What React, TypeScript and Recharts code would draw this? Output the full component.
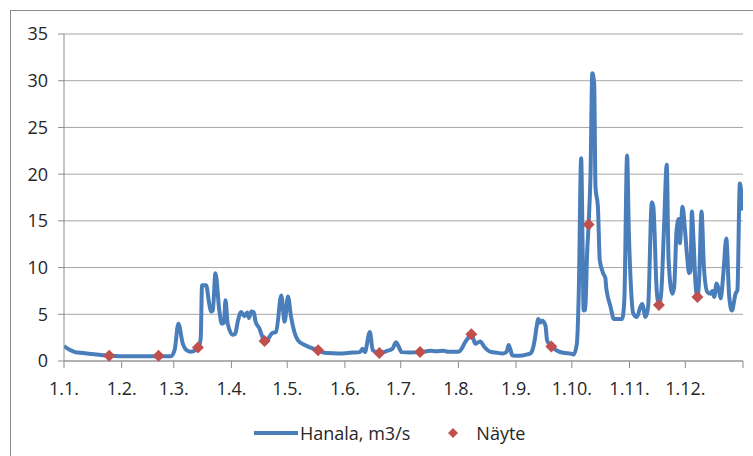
import { ComposedChart, Line, Scatter, XAxis, YAxis, CartesianGrid } from 'recharts'

// daily flow at the turning points (day of year, m3/s)
const flowDay = [
  0, 3, 6, 10, 15, 20, 25, 30, 40, 50, 57.5, 59.5, 61.5, 63.8, 65.6, 68, 71, 72.5, 73.5, 74.2,
  76.4, 78, 79, 80, 81.4, 83.5, 84.8, 86, 86.8, 88, 90.7, 92, 93.5, 95.2, 97, 98.5, 99.4, 100.7, 102, 103,
  105, 107, 108.5, 110.5, 112, 114, 116.8, 118.6, 120.4, 122, 124, 125.8, 129.4, 133, 136.6, 141, 148, 155, 159, 160.5,
  161.7, 164.4, 166, 169.5, 174, 176.5, 178.5, 180, 181.5, 186, 192, 197, 200, 204, 206, 210, 212, 214, 215.6, 217,
  219, 220, 221, 223.7, 226, 229, 232, 236, 238, 239, 240, 241, 245, 249, 250.7, 252, 253, 254, 255, 256,
  257, 258.8, 259.7, 262, 266, 269.5, 272, 274, 275.7, 276.7, 278, 278.8, 279.3, 280.2, 281.2, 282, 283, 284, 285, 285.7,
  287, 288, 289.3, 290, 291, 291.5, 292, 293.8, 295.6, 300, 301.2, 302.7, 303.6, 304.6, 306, 308, 309.8, 310.8, 312.6, 314,
  316, 316.8, 318.6, 319.8, 321, 322.5, 324, 325, 327, 328, 329.3, 330.5, 331, 332.5, 333.7, 335, 336, 336.8, 337.5, 338.4,
  339.6, 340.5, 341.4, 342.7, 344, 345.8, 347.6, 348.5, 349.5, 350.8, 352, 353, 354.5, 356, 357.6, 359, 361, 362, 363.3, 364.7,
]
const flowValue = [
  1.6, 1.2, 0.95, 0.85, 0.75, 0.65, 0.55, 0.5, 0.5, 0.5, 0.5, 1.2, 4.0, 1.9, 1.2, 1.0, 1.2, 1.5, 2.5, 8.1,
  8.1, 6.2, 5.3, 5.4, 9.4, 5.4, 4.0, 4.1, 6.5, 4.0, 2.8, 2.9, 4.3, 5.25, 4.8, 5.2, 4.6, 5.3, 5.2, 4.2,
  3.5, 2.4, 2.0, 2.6, 3.0, 3.1, 7.0, 4.2, 6.9, 4.8, 3.0, 2.2, 1.7, 1.4, 1.1, 0.85, 0.8, 0.9, 0.95, 1.3,
  0.95, 3.1, 1.15, 0.85, 1.1, 1.3, 2.0, 1.5, 0.95, 0.9, 0.95, 1.1, 1.05, 1.1, 1.0, 1.0, 1.0, 1.4, 2.0, 2.4,
  2.8, 2.4, 1.85, 2.1, 1.5, 1.0, 0.9, 0.8, 1.0, 1.7, 1.2, 0.6, 0.55, 0.7, 0.8, 1.3, 2.2, 3.6, 4.5, 4.1,
  4.3, 3.8, 2.2, 1.6, 1.0, 0.85, 0.8, 0.7, 1.85, 7.2, 21.7, 12, 5.4, 5.5, 11.5, 14.6, 19.7, 30.8, 29.7, 18.6,
  16.5, 10.8, 9.7, 9.3, 8.9, 7.8, 7.2, 5.8, 4.5, 4.5, 6.5, 22.0, 14, 8.6, 5.1, 4.7, 5.8, 6.1, 4.7, 5.8,
  17.0, 16.5, 7.6, 6.0, 7.2, 14, 21, 10.8, 7.2, 7.9, 14, 15.2, 12.6, 16.5, 14.3, 11.1, 9.4, 9.6, 16, 12.9,
  7.9, 6.85, 8.6, 16, 10, 7.4, 7.2, 7.5, 6.85, 8.3, 7.6, 6.7, 9.5, 13.1, 6.85, 5.4, 7.2, 7.6, 19, 16.1,
]

// samples (Näyte)
const sampleDay = [24.3, 50.8, 72, 107.8, 136.6, 169.5, 191.4, 219, 262, 282, 319.8, 340.5]
const sampleValue = [0.55, 0.55, 1.45, 2.15, 1.15, 0.85, 0.95, 2.85, 1.55, 14.6, 6.0, 6.85]

const monthTicks = [0, 31, 59, 90, 120, 151, 181, 212, 243, 273, 304, 334, 365]
const monthLabels = ['1.1.', '1.2.', '1.3.', '1.4.', '1.5.', '1.6.', '1.7.', '1.8.', '1.9.', '1.10.', '1.11.', '1.12.', '']
const yTicks = [0, 5, 10, 15, 20, 25, 30, 35]

const flowData = flowDay.map((d, i) => ({ day: d, value: flowValue[i] }))
const sampleData = sampleDay.map((d, i) => ({ day: d, value: sampleValue[i] }))

const BLUE = '#4a7ebb'
const RED = '#c0504d'
const FONT = '"Open Sans", sans-serif'

const Diamond = (props: any) => {
  const { cx, cy } = props
  if (cx == null || cy == null) return null
  const r = 6
  return <polygon points={`${cx},${cy - r} ${cx + r},${cy} ${cx},${cy + r} ${cx - r},${cy}`} fill={RED} />
}

export default function App() {
  const tick = { fontSize: 18, fill: '#262626', fontFamily: FONT }
  return (
    <div style={{ position: 'absolute', left: 0, top: 0, width: 753, height: 456, overflow: 'hidden', background: '#fff' }}>
      <div style={{ position: 'absolute', left: 10, top: 10, width: 760, height: 460, borderLeft: '1px solid #8c8c8c', borderTop: '1px solid #8c8c8c' }} />
      <ComposedChart width={753} height={456} margin={{ top: 34, right: 10, bottom: 60, left: 0 }} style={{ position: 'absolute', left: 0, top: 0 }}>
        <CartesianGrid vertical={false} stroke="#a6a6a6" strokeWidth={1} />
        <XAxis
          type="number"
          dataKey="day"
          domain={[0, 365]}
          ticks={monthTicks}
          tickFormatter={(v: number) => monthLabels[monthTicks.indexOf(v)] ?? ''}
          interval={0}
          height={35}
          tickSize={7}
          tickMargin={14}
          stroke="#8c8c8c"
          tick={tick}
          allowDataOverflow
        />
        <YAxis
          type="number"
          domain={[0, 35]}
          ticks={yTicks}
          interval={0}
          width={64}
          tickSize={6}
          tickMargin={10}
          stroke="#8c8c8c"
          tick={tick}
        />
        <Line
          data={flowData}
          dataKey="value"
          type="monotone"
          stroke={BLUE}
          strokeWidth={4}
          strokeLinejoin="round"
          dot={false}
          activeDot={false}
          isAnimationActive={false}
        />
        <Scatter data={sampleData} dataKey="value" fill={RED} shape={<Diamond />} isAnimationActive={false} />
      </ComposedChart>
      <div style={{ position: 'absolute', left: 254, top: 420, height: 26, display: 'flex', alignItems: 'center', fontFamily: FONT, fontSize: 18, color: '#262626', whiteSpace: 'nowrap' }}>
        <svg width={44} height={10} style={{ marginRight: 2 }}>
          <line x1={0} y1={5} x2={44} y2={5} stroke={BLUE} strokeWidth={4} />
        </svg>
        <span>Hanala, m3/s</span>
        <svg width={10} height={10} style={{ marginLeft: 38, marginRight: 18 }}>
          <polygon points="5,0 10,5 5,10 0,5" fill={RED} />
        </svg>
        <span>Näyte</span>
      </div>
    </div>
  )
}
